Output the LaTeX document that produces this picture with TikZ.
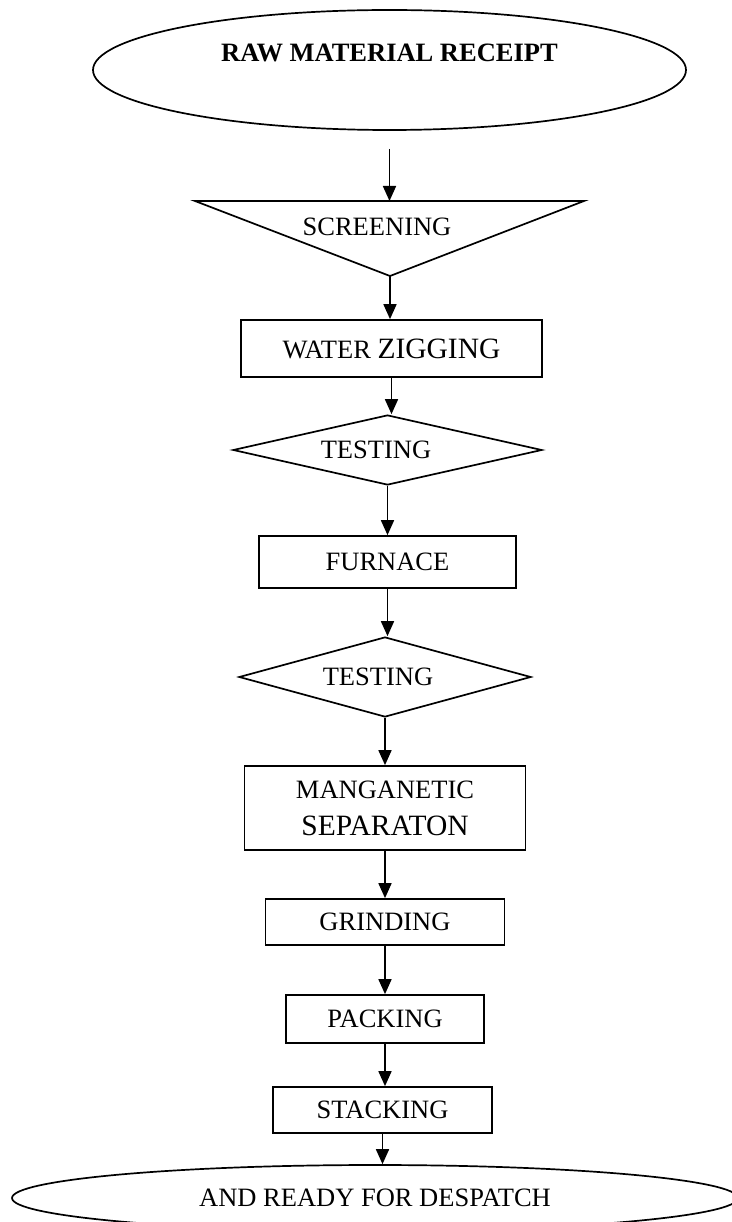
\documentclass[tikz,border=0pt]{standalone}
\usepackage{fontspec}
\setmainfont{Liberation Serif}
\usetikzlibrary{
	shapes.geometric,
	positioning,
	arrows.meta
}
\newcommand\largertext{\fontsize{29.5pt}{36pt}\selectfont}

\begin{document}
\begin{tikzpicture}[
		x=1pt,y=1pt,
		every node/.style={font=\fontsize{26.5pt}{32pt}\selectfont},
		box/.style={draw,rectangle,line width=1.7pt,inner sep=0pt},
		oval/.style={draw,ellipse,line width=1.7pt,inner sep=0pt},
		test/.style={draw,diamond,line width=1.7pt,inner sep=0pt,shape aspect=4},
		every edge/.style={draw,line width=1.7pt,-{Triangle[length=15pt,width=13pt]}}
	]
	\useasboundingbox (0,0) rectangle (731,-1222);

	\draw[line width=1.7pt]
		node[oval,minimum width=593pt,minimum height=120pt,text depth=34pt] (raw) at (389.5,-70) {\textbf{RAW MATERIAL RECEIPT}}
		node[below of=raw,node distance=157pt,xshift=-12.5pt]                                   (scr)  {SCREENING}
		node[box,below of=scr,node distance=121.5pt,xshift=14.5pt,minimum width=301pt,minimum height=57pt] (wat)  {WATER {\largertext ZIGGING}}
		node[test,below of=wat,node distance=101.5pt,xshift=-4pt,minimum width=309pt,minimum height=70pt] (tst1) {TESTING\hspace*{23pt}}
		node[box,below of=tst1,node distance=112pt,minimum width=257pt,minimum height=52pt]           (fur)  {FURNACE}
		node[test,below of=fur,node distance=115pt,xshift=-2.5pt,minimum width=292pt,minimum height=80pt] (tst2) {TESTING\hspace*{14pt}}
		node[box,below of=tst2,node distance=131pt,minimum width=281pt,minimum height=84pt,align=center] (man) {MANGANETIC\\[5pt]{\largertext SEPARATON}}
		node[box,below of=man,node distance=114pt,minimum width=239pt,minimum height=46pt]            (gri)  {GRINDING}
		node[box,below of=gri,node distance=97pt,minimum width=198pt,minimum height=48pt]             (pac)  {PACKING}
		node[box,below of=pac,node distance=91pt,xshift=-2.5pt,minimum width=219pt,minimum height=46pt] (sta) {STACKING}
		node[oval,below of=sta,node distance=88pt,xshift=-7.5pt,minimum width=726pt,minimum height=66pt] (dsp) {AND READY FOR DESPATCH}

		% screening funnel
		([shift={(-182,26)}]scr.center) -- ([shift={(207,26)}]scr.center)
			-- ([shift={(13,-49)}]scr.center) coordinate (scrb) -- cycle
		([shift={(13,26)}]scr.center) coordinate (scrt)

		(raw.south) edge[shorten <=18pt] (raw.south |- scrt)
		(scrb)      edge (scrb |- wat.north)
		(wat.south) edge (wat.south |- tst1.north)
		(tst1.south) edge (tst1.south |- fur.north)
		(fur.south) edge (fur.south |- tst2.north)
		(tst2.south) edge (tst2.south |- man.north)
		(man.south) edge (man.south |- gri.north)
		(gri.south) edge (gri.south |- pac.north)
		(pac.south) edge (pac.south |- sta.north)
		(sta.south) edge (sta.south |- dsp.north)
	;
\end{tikzpicture}
\end{document}
